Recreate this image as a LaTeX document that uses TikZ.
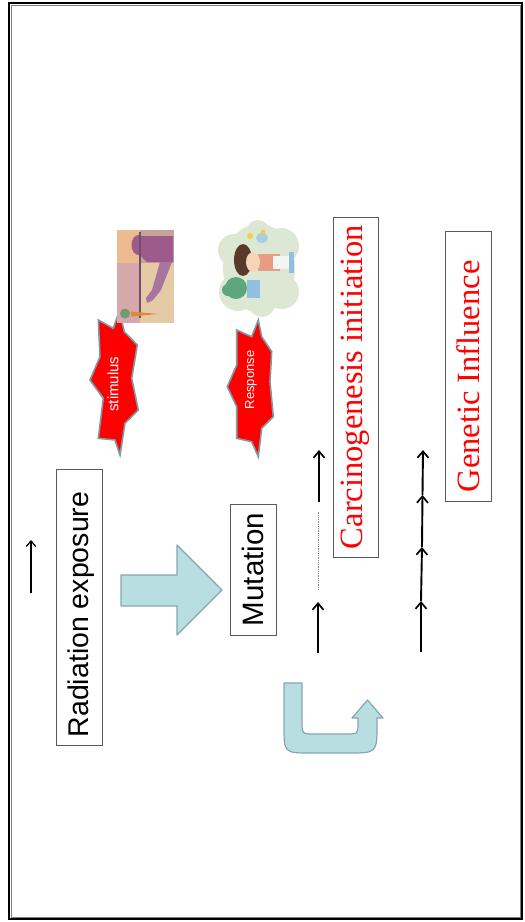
\documentclass[tikz,border=0pt]{standalone}
\usepackage{fontspec}
\setmainfont{Liberation Serif}
\newfontfamily\arialfont{Liberation Sans}
\usetikzlibrary{arrows.meta}
\definecolor{pale}{HTML}{B9DEE1}
\definecolor{paleedge}{HTML}{86A6AE}
\definecolor{starred}{HTML}{FF0000}
\definecolor{staredge}{HTML}{7F9BA4}
\definecolor{boxedge}{HTML}{5A5A5A}
% picture colours
\definecolor{peach}{HTML}{EDBB8D}
\definecolor{mauve}{HTML}{C6A399}
\definecolor{rose}{HTML}{D5A9A9}
\definecolor{beige}{HTML}{E5CAA6}
\definecolor{plum}{HTML}{9E5A8B}
\definecolor{lilac}{HTML}{A874A0}
\definecolor{pole}{HTML}{6E4E6E}
\definecolor{carrot}{HTML}{E0893A}
\definecolor{leaf}{HTML}{6E9B71}
\definecolor{cloud}{HTML}{DDE8D4}
\definecolor{shirt}{HTML}{5DA67E}
\definecolor{skirt}{HTML}{8FC0E0}
\definecolor{sleeve}{HTML}{E89C85}
\definecolor{sock}{HTML}{F4F4F4}
\definecolor{hair}{HTML}{5A3A2A}
\definecolor{skin}{HTML}{F5D5B5}
\definecolor{can}{HTML}{A8CDE6}
\definecolor{bow}{HTML}{F2D040}
\tikzset{
  labelbox/.style={draw=boxedge, line width=0.8pt, fill=white, rotate=90, inner sep=0pt},
  sanslabel/.style={rotate=90, font=\arialfont, text=black},
  seriflabel/.style={rotate=90, text=starred},
  stepline/.style={line width=1.9pt, -{Straight Barb[length=6.5pt,width=11pt,line width=1.7pt]}},
  thinline/.style={line width=1.5pt, -{Straight Barb[length=5.5pt,width=9.5pt,line width=1.3pt]}},
  blockarrow/.style={fill=pale, draw=paleedge, line width=1.2pt, line join=round},
  burst/.style={fill=starred, draw=staredge, line width=1.6pt, line join=miter},
}
\begin{document}
\begin{tikzpicture}[x=1pt, y=-1pt]
\useasboundingbox (0,0) rectangle (525,922);
% frame
\draw[line width=2.6pt] (9,3) rectangle (522,919);
\draw[gray, line width=0.8pt] (11,5) rectangle (520,917);

% labelled boxes
\node[labelbox, minimum width=276pt, minimum height=46pt] (rad) at (79,607) {};
\node[sanslabel, font=\arialfont\fontsize{28.5}{30}\selectfont] (radtext) at (81,614.5) {Radiation exposure};
\node[labelbox, minimum width=131pt, minimum height=46pt, font=\arialfont\fontsize{29.5}{31}\selectfont] (mut) at (253,569.5) {Mutation};
\node[labelbox, minimum width=340pt, minimum height=45pt, text=starred, font=\fontsize{32.5}{34}\selectfont] (carc) at (355.5,387) {Carcinogenesis initiation};
\node[labelbox, minimum width=270pt, minimum height=46pt] (gen) at (468,366) {};
\node[seriflabel, font=\fontsize{32.5}{34}\selectfont] (gentext) at (468,376.5) {Genetic Influence};

% small arrow at the left
\coordinate (s0) at (31,593);
\coordinate (s1) at (31,540);
\draw[thinline] (s0) -- (s1);

% broad arrow towards the mutation box
\draw[blockarrow] (121,575) -- (177,575) -- (177,545) -- (222,590) -- (177,635) -- (177,606) -- (121,606) -- cycle;

% u-turn arrow
\draw[blockarrow] (284,683) -- (302,683) -- (302,721)
  .. controls (302,734) .. (315,734) -- (346,734)
  .. controls (358,734) .. (358,723) -- (358,718) -- (352,718) -- (367.5,700) -- (383,718) -- (377,718) -- (377,724)
  .. controls (377,753) .. (348,753) -- (311,753)
  .. controls (284,753) .. (284,726) -- cycle;

% first column of step arrows with a dotted gap
\coordinate (a0) at (318,653);
\coordinate (a1) at (318,602);
\coordinate (a2) at (318,590);
\coordinate (a3) at (318,512);
\coordinate (a4) at (319,502);
\coordinate (a5) at (319,450);
\draw[stepline] (a0) -- (a1);
\draw[gray, line width=0.6pt, dash pattern=on 1pt off 0.8pt] (a2) -- (a3);
\draw[stepline] (a4) -- (a5);

% second column of chained step arrows
\coordinate (b0) at (421,652);
\coordinate (b1) at (421,601);
\coordinate (b2) at (422,547);
\coordinate (b3) at (422.5,495);
\coordinate (b4) at (423,450);
\draw[stepline] (b0) -- (b1);
\draw[stepline] (b1) -- (b2);
\draw[stepline] (b2) -- (b3);
\draw[stepline] (b3) -- (b4);

% stimulus burst
\draw[burst] (119.3,311) -- (124.3,331.7) -- (137.3,345) -- (131.7,378.3) -- (138.3,410) -- (125,423.3) -- (120,455)
  -- (115,440) -- (98.3,438.3) -- (103.3,398.3) -- (90,380) -- (100,356.7) -- (98.3,320) -- (113.3,328.3) -- cycle;
\node[rotate=90, text=white, font=\arialfont\fontsize{15}{16}\selectfont] (stim) at (113,384) {stimulus};

% response burst
\draw[burst] (258.3,320) -- (261.7,336.7) -- (271.7,351.7) -- (270,381.7) -- (273.3,416.7) -- (261.7,428.3) -- (258.3,456.7)
  -- (251.7,441.7) -- (236.7,438.3) -- (236.7,406.7) -- (227.3,386.7) -- (236.7,365) -- (236.7,330) -- (251.7,336.7) -- cycle;
\node[rotate=90, text=white, font=\arialfont\fontsize{13}{14}\selectfont] (resp) at (251,380) {Response};

% stimulus picture: figure bending over a carrot
\fill[peach] (117,230) rectangle (140,263);
\fill[mauve] (140,230) rectangle (174,263);
\fill[rose] (117,263) rectangle (140,323);
\fill[beige] (140,263) rectangle (174,323);
\fill[plum] (140,236) -- (173,236) -- (173,262) -- (147,262) -- (140,255) -- cycle;
\fill[plum] (138.5,245) ellipse [x radius=7, y radius=10];
\fill[lilac] (160,262) -- (172,262) -- (161,290) -- (153,300) -- (147,303) -- (146,298) -- (152,290) -- cycle;
\draw[pole, line width=1.2pt] (140,232) -- (140,318);
\fill[carrot] (131,311.5) -- (158,314) -- (131,316.5) -- cycle;
\fill[leaf] (125,313.5) circle [radius=5];

% response picture: child with a watering can on a green cloud
\fill[cloud] (259,268) ellipse [x radius=36, y radius=44];
\fill[cloud] (234,250) circle [radius=16];
\fill[cloud] (238,292) circle [radius=19];
\fill[cloud] (281,246) circle [radius=18];
\fill[cloud] (282,292) circle [radius=17];
\fill[cloud] (258,232) circle [radius=12];
\fill[cloud] (262,304) circle [radius=13];
\fill[shirt] (236,288) circle [radius=11];
\fill[shirt] (228,290) circle [radius=6];
\fill[skirt] (247,280) rectangle (260,298);
\fill[sleeve] (258,254) rectangle (280,271);
\fill[sock] (273,256) rectangle (291,269);
\fill[skirt] (289,252) rectangle (294,273);
\fill[hair] (243,260) ellipse [x radius=9, y radius=16];
\fill[skin] (253,262) ellipse [x radius=7, y radius=10];
\fill[can] (262,238) ellipse [x radius=6, y radius=5];
\fill[bow] (250,236) circle [radius=3];
\fill[bow] (263,232) circle [radius=2.5];
\end{tikzpicture}
\end{document}
